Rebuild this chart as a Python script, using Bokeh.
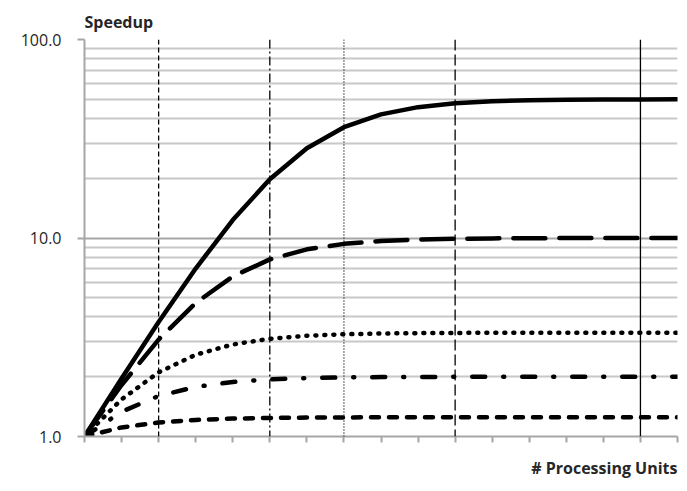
from bokeh.plotting import figure
from bokeh.models import Range1d, FixedTicker, NumeralTickFormatter, Span, Title
from bokeh.embed import file_html
from bokeh.resources import INLINE

# x categories: number of processing units 2^0 .. 2^16 (positions 0..16)
units = [1, 2, 4, 8, 16, 32, 64, 128, 256, 512, 1024, 2048, 4096, 8192, 16384, 32768, 65536]
xpos = list(range(len(units)))

s98 = [1.0, 1.961, 3.774, 7.018, 12.31, 19.75, 28.32, 36.16, 41.97, 45.63, 47.72, 48.83, 49.41, 49.70, 49.85, 49.93, 49.96]
s90 = [1.0, 1.818, 3.077, 4.706, 6.400, 7.805, 8.767, 9.343, 9.660, 9.827, 9.913, 9.956, 9.978, 9.989, 9.995, 9.997, 9.999]
s70 = [1.0, 1.538, 2.105, 2.581, 2.909, 3.107, 3.216, 3.274, 3.303, 3.318, 3.326, 3.330, 3.331, 3.333, 3.333, 3.333, 3.333]
s50 = [1.0, 1.333, 1.600, 1.778, 1.882, 1.939, 1.969, 1.984, 1.992, 1.996, 1.998, 1.999, 2.0, 2.0, 2.0, 2.0, 2.0]
s20 = [1.0, 1.111, 1.176, 1.212, 1.231, 1.240, 1.245, 1.248, 1.249, 1.250, 1.250, 1.250, 1.250, 1.250, 1.250, 1.250, 1.250]

# vertical marker lines (category positions)
marker_pos = [2, 5, 7, 10, 15]
marker_dash = ["5 3", "9 3 2 3", "1 2", "11 4", "solid"]

y_major = [1, 10, 100]
y_minor = [2, 3, 4, 5, 6, 7, 8, 9, 20, 30, 40, 50, 60, 70, 80, 90]

p = figure(width=686, height=490, y_axis_type="log", output_backend="svg",
           toolbar_location=None, x_range=Range1d(0, 16), y_range=Range1d(1, 100),
           min_border_left=84, min_border_right=9, min_border_top=39, min_border_bottom=53)
p.outline_line_color = None
p.background_fill_color = "white"

p.title.text = "Speedup"
p.title.align = "left"
p.title.text_font = "Open Sans"
p.title.text_font_style = "bold"
p.title.text_font_size = "16px"
p.title.text_color = "#262626"
p.title.standoff = 13

p.add_layout(Title(text="# Processing Units", align="right", text_font="Open Sans",
                   text_font_style="bold", text_font_size="16px", text_color="#262626",
                   standoff=24),
             "below")

yt = FixedTicker(ticks=y_major, minor_ticks=y_minor)
p.yaxis.ticker = yt
p.ygrid.ticker = yt
p.yaxis.formatter = NumeralTickFormatter(format="0.0")
p.ygrid.grid_line_color = "#a6a6a6"
p.ygrid.grid_line_width = 2
p.ygrid.minor_grid_line_color = "#c8c8c8"
p.ygrid.minor_grid_line_width = 2
p.xgrid.grid_line_color = None

p.yaxis.axis_line_color = "#a6a6a6"
p.yaxis.axis_line_width = 2
p.yaxis.major_tick_line_color = "#a6a6a6"
p.yaxis.major_tick_line_width = 2
p.yaxis.major_tick_out = 7
p.yaxis.major_tick_in = 0
p.yaxis.minor_tick_line_color = None
p.yaxis.major_label_standoff = 16
p.yaxis.major_label_text_font = "Open Sans"
p.yaxis.major_label_text_font_size = "16px"
p.yaxis.major_label_text_color = "#262626"

p.xaxis.ticker = FixedTicker(ticks=xpos)
p.xaxis.axis_line_color = "#a6a6a6"
p.xaxis.axis_line_width = 2
p.xaxis.major_tick_line_color = "#a6a6a6"
p.xaxis.major_tick_line_width = 2
p.xaxis.major_tick_out = 6
p.xaxis.major_tick_in = 0
p.xaxis.minor_tick_line_color = None
p.xaxis.major_label_text_color = None
p.xaxis.major_label_text_font_size = "1px"
p.xaxis.major_label_standoff = 0

for xp, d in zip(marker_pos, marker_dash):
    p.add_layout(Span(location=xp, dimension="height", line_color="black",
                      line_width=1.3, line_dash=d))

p.line(xpos, s20, line_color="black", line_width=4.5, line_dash="8 10", line_cap="round")
p.line(xpos, s50, line_color="black", line_width=4.5, line_dash="13 18 1 18", line_cap="round")
p.line(xpos, s70, line_color="black", line_width=4.5, line_dash="1 8", line_cap="round")
p.line(xpos, s90, line_color="black", line_width=4.5, line_dash="32 14", line_cap="round")
p.line(xpos, s98, line_color="black", line_width=4.5, line_join="round", line_cap="round")

open("out.html", "w").write(file_html(p, INLINE))
